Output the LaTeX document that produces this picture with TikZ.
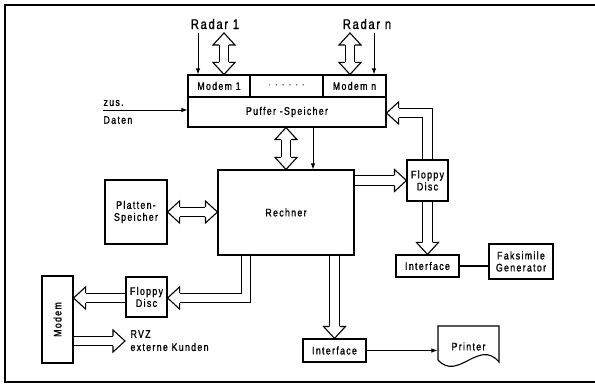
\documentclass[tikz,border=0pt]{standalone}
\usepackage{fontspec}
\usepackage{graphicx}
\setmainfont{Liberation Sans}[FakeStretch=0.8, LetterSpace=12, FakeBold=1.2]
\usetikzlibrary{arrows.meta,calc}
\begin{document}
\begin{tikzpicture}[x=1pt,y=-1pt, line width=1.1pt,
  font=\fontsize{11}{12}\selectfont,
  box/.style={draw, rectangle, inner sep=0pt, align=center},
  fat/.style={double, double distance=8.5pt, line width=1.1pt},
  thin/.style={line width=0.9pt, -{Latex[length=6pt,width=4.5pt]}},
  fathead/.pic={\fill[white] (0,0) -- (-12,-11) -- (-12,11) -- cycle;
    \draw[line join=miter] (-12,-5) -- (-12,-11) -- (0,0) -- (-12,11) -- (-12,5);},
  big/.style={font=\fontsize{14}{15}\selectfont}]
\useasboundingbox (0,0) rectangle (595,385);
% frame
\draw (595,5) -- (5,5) -- (5,382) -- (595,382);
% nodes
\node[box, minimum width=62pt, minimum height=22pt] (modem1) at (219,86) {Modem 1};
\node[box, minimum width=73pt, minimum height=22pt, text=black!60] (dots) at (286.5,86) {· · · · · ·};
\node[box, minimum width=63pt, minimum height=22pt] (modemn) at (354.5,86) {Modem n};
\node[box, minimum width=198pt, minimum height=30pt] (puffer) at (287,112) {Puffer -Speicher};
\node[box, minimum width=136pt, minimum height=85pt] (rechner) at (286,212.5) {Rechner};
\node[box, minimum width=41pt, minimum height=41pt] (floppyR) at (427.5,180.5) {Floppy\\Disc};
\node[box, minimum width=63pt, minimum height=22pt] (interfaceR) at (427.5,266) {Interface};
\node[box, minimum width=64pt, minimum height=35pt] (faks) at (521,261.5) {Faksimile\\Generator};
\node[box, minimum width=63pt, minimum height=23pt] (interfaceB) at (334.5,350.5) {Interface};
\node[box, minimum width=62pt, minimum height=64pt] (platten) at (136,212) {Platten-\\Speicher};
\node[box, minimum width=41pt, minimum height=40pt] (floppyL) at (146.5,297) {Floppy\\Disc};
\node[box, minimum width=31pt, minimum height=87pt] (modemL) at (57.5,319.5) {\rotatebox{90}{Modem}};
\node[inner sep=0pt, minimum width=61pt, minimum height=41pt] (printer) at (468.5,346.5) {Printer};
\draw (438,360) -- (438,326) -- (499,326) -- (499,362) .. controls (479,338) and (458,382) .. (438,360);
% labels
\node[big] (radar1) at (215,24) {Radar 1};
\node[big] (radarn) at (367,24) {Radar n};
\node[anchor=west, inner sep=0pt] (zus) at (103,103) {zus.};
\node[anchor=west, inner sep=0pt] (daten) at (103,120) {Daten};
\node[anchor=west, inner sep=0pt] (rvz) at (130,334) {RVZ};
\node[anchor=west, inner sep=0pt] (kunden) at (130,347) {externe Kunden};
% free ends
\coordinate (r1in) at (198,33);
\coordinate (r1fat) at (224,33);
\coordinate (rnfat) at (350,33);
\coordinate (rnin) at (374,33);
\coordinate (zusin) at (103,110);
\coordinate (rvzend) at (125,341);
\coordinate (pufout) at (313,127);
\coordinate (pufx) at (286,0);
\coordinate (rechx) at (246,0);
% thin connectors
\draw[thin] (r1in) -- (r1in |- modem1.north);
\draw[thin] (rnin) -- (rnin |- modemn.north);
\draw[thin] (zusin) -- (zusin -| puffer.west);
\draw[thin] (pufout |- puffer.south) -- (pufout |- rechner.north);
\draw[thin] (interfaceB.east) -- (interfaceB.east -| printer.west);
\draw[line width=1.8pt] (interfaceR.east) -- (faks.west |- interfaceR.east);
% fat: Radar 1
\coordinate (a) at (r1fat |- modem1.north);
\draw[fat] ($(r1fat)+(0,12)$) -- ($(a)+(0,-12)$);
\pic[rotate=90] at (r1fat) {fathead};
\pic[rotate=-90] at (a) {fathead};
% fat: Radar n
\coordinate (b) at (rnfat |- modemn.north);
\draw[fat] ($(rnfat)+(0,12)$) -- ($(b)+(0,-12)$);
\pic[rotate=90] at (rnfat) {fathead};
\pic[rotate=-90] at (b) {fathead};
% fat: Puffer <-> Rechner
\coordinate (c1) at (pufx |- puffer.south);
\coordinate (c2) at (pufx |- rechner.north);
\draw[fat] ($(c1)+(0,12)$) -- ($(c2)+(0,-12)$);
\pic[rotate=90] at (c1) {fathead};
\pic[rotate=-90] at (c2) {fathead};
% fat: Rechner -> Floppy R
\coordinate (d1) at (rechner.east |- floppyR.center);
\coordinate (d2) at (floppyR.west);
\draw[fat] (d1) -- ($(d2)+(-12,0)$);
\pic at (d2) {fathead};
% fat: Floppy R -> Puffer
\coordinate (e2) at ($(puffer.east)+(0,1)$);
\draw[fat] (floppyR.north) -- (floppyR.north |- e2) -- ($(e2)+(12,0)$);
\pic[rotate=180] at (e2) {fathead};
% fat: Floppy R -> Interface R
\draw[fat] (floppyR.south) -- ($(interfaceR.north)+(0,-12)$);
\pic[rotate=-90] at (interfaceR.north) {fathead};
% fat: Rechner -> Interface B
\draw[fat] (rechner.south -| interfaceB.north) -- ($(interfaceB.north)+(0,-12)$);
\pic[rotate=-90] at (interfaceB.north) {fathead};
% fat: Platten <-> Rechner
\coordinate (f1) at (platten.east);
\coordinate (f2) at (rechner.west |- platten.east);
\draw[fat] ($(f1)+(12,0)$) -- ($(f2)+(-12,0)$);
\pic[rotate=180] at (f1) {fathead};
\pic at (f2) {fathead};
% fat: Rechner -> Floppy L
\coordinate (g0) at (rechx |- rechner.south);
\coordinate (g2) at ($(floppyL.east)+(0,1)$);
\draw[fat] (g0) -- (g0 |- g2) -- ($(g2)+(12,0)$);
\pic[rotate=180] at (g2) {fathead};
% fat: Floppy L -> Modem
\coordinate (h2) at (modemL.east |- g2);
\draw[fat] (floppyL.west |- g2) -- ($(h2)+(12,0)$);
\pic[rotate=180] at (h2) {fathead};
% fat: Modem -> RVZ
\draw[fat] (modemL.east |- rvzend) -- ($(rvzend)+(-12,0)$);
\pic at (rvzend) {fathead};
\end{tikzpicture}
\end{document}
